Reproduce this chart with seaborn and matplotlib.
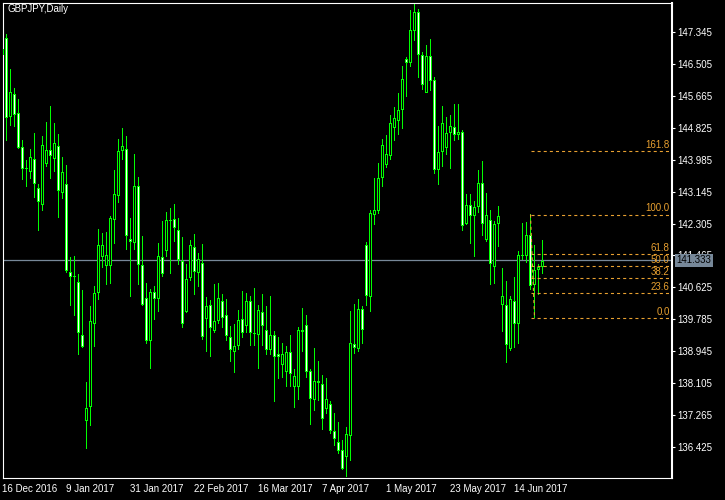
import numpy as np
import pandas as pd
import matplotlib
matplotlib.use("Agg")
import matplotlib.pyplot as plt
import seaborn as sns
from matplotlib.transforms import blended_transform_factory, offset_copy

# ---- data (GBPJPY daily candles) ----
opens = [146.73, 147.17, 145.11, 145.71, 145.20, 144.31, 143.77, 143.66, 143.99, 143.25,
         142.78, 143.88, 144.23, 144.01, 144.34, 143.11, 143.34, 141.02, 140.93, 140.78,
         139.38, 137.12, 137.48, 139.66, 140.48, 141.43, 141.19, 141.19, 142.40, 143.03,
         144.22, 144.25, 141.91, 141.79, 143.28, 141.22, 140.36, 139.22, 140.50, 140.32,
         141.43, 141.58, 142.41, 142.42, 142.14, 141.32, 139.98, 140.87, 141.69, 141.00,
         141.27, 139.80, 140.16, 139.48, 139.74, 140.27, 139.90, 139.32, 138.94, 139.09,
         139.80, 139.61, 140.28, 139.44, 139.38, 139.99, 139.51, 138.99, 139.38, 138.88,
         138.58, 138.40, 138.93, 138.01, 138.01, 139.46, 139.65, 138.42, 137.66, 138.16,
         138.08, 137.43, 137.56, 136.84, 136.57, 136.36, 136.16, 136.73, 139.15, 139.00,
         140.05, 141.75, 140.37, 142.54, 142.64, 143.51, 143.85, 144.08, 144.82, 145.01,
         145.28, 146.64, 146.51, 147.36, 147.86, 146.72, 145.74, 146.70, 146.08, 143.71,
         144.19, 144.29, 144.67, 144.83, 144.62, 144.72, 142.30, 142.78, 142.51, 142.75,
         143.38, 141.86, 142.41, 141.15, 142.30, 140.17, 140.17, 139.00, 140.28, 139.67,
         141.48, 141.45, 142.01, 140.68, 141.09, 141.16]
highs = [146.95, 147.26, 146.36, 145.86, 145.57, 144.49, 143.97, 144.25, 144.68, 143.34,
         144.60, 144.97, 145.39, 144.94, 144.65, 144.05, 143.84, 141.42, 141.44, 140.97,
         140.55, 138.13, 140.13, 140.66, 142.15, 142.05, 142.07, 142.50, 143.71, 144.52,
         144.79, 144.60, 142.44, 144.13, 143.52, 141.97, 140.73, 140.58, 140.66, 141.79,
         142.36, 142.60, 142.71, 142.81, 142.44, 141.94, 141.24, 141.85, 142.02, 141.53,
         141.76, 140.37, 140.29, 140.71, 140.73, 140.45, 140.31, 139.60, 139.66, 140.02,
         140.52, 140.47, 140.39, 140.60, 140.15, 140.44, 140.13, 140.39, 139.47, 139.32,
         139.14, 139.08, 139.37, 138.48, 139.58, 140.08, 139.89, 138.48, 139.03, 138.69,
         138.32, 138.24, 137.64, 137.32, 137.07, 136.60, 136.94, 139.99, 140.18, 140.31,
         140.13, 141.81, 142.65, 143.49, 143.89, 144.50, 144.63, 145.13, 145.36, 145.73,
         146.44, 146.68, 147.89, 148.10, 147.94, 146.81, 146.99, 147.13, 146.14, 144.85,
         145.39, 145.08, 145.15, 145.42, 145.44, 144.74, 143.07, 143.07, 142.88, 143.71,
         143.94, 143.10, 142.65, 142.36, 142.76, 141.13, 140.79, 140.39, 140.89, 141.56,
         142.31, 142.34, 142.54, 141.73, 141.22, 141.87]
lows = [146.65, 144.49, 144.89, 144.86, 144.27, 143.47, 143.27, 143.50, 142.98, 142.13,
        142.65, 143.81, 143.50, 143.66, 142.45, 142.95, 141.03, 140.14, 139.90, 138.87,
        139.05, 136.40, 137.01, 139.08, 140.32, 141.14, 140.71, 140.74, 141.79, 142.85,
        143.98, 141.63, 140.39, 141.61, 140.71, 140.14, 139.16, 138.50, 139.77, 140.00,
        140.90, 141.45, 140.98, 141.82, 141.22, 139.58, 139.96, 140.82, 140.45, 140.66,
        139.27, 138.95, 138.80, 139.45, 139.69, 139.56, 139.24, 138.69, 138.40, 139.00,
        139.32, 139.45, 139.11, 139.09, 138.50, 139.11, 138.85, 138.87, 137.64, 138.24,
        138.27, 138.01, 138.01, 137.48, 137.69, 138.93, 138.27, 137.03, 137.40, 137.66,
        136.90, 137.32, 136.80, 136.48, 136.25, 135.84, 135.66, 136.08, 138.90, 138.95,
        139.16, 140.16, 140.00, 142.29, 142.56, 143.27, 143.77, 143.99, 144.48, 144.64,
        144.79, 145.64, 146.42, 147.11, 146.14, 145.82, 145.74, 145.79, 143.61, 143.32,
        143.79, 144.11, 143.74, 144.48, 144.50, 142.11, 142.28, 141.79, 141.45, 142.59,
        141.98, 141.84, 140.70, 140.73, 141.71, 139.48, 138.64, 138.98, 139.06, 139.16,
        141.35, 141.29, 140.56, 139.83, 140.43, 140.98]
closes = [146.89, 145.09, 145.76, 145.16, 144.29, 143.74, 143.73, 144.05, 143.33, 142.88,
          144.36, 144.23, 144.08, 144.41, 143.16, 143.65, 141.06, 140.91, 140.89, 139.44,
          139.07, 137.46, 139.75, 140.49, 141.73, 141.73, 141.49, 142.44, 143.08, 144.20,
          144.33, 141.98, 141.82, 143.28, 141.22, 140.16, 139.22, 140.50, 140.32, 141.45,
          140.98, 142.41, 142.38, 142.19, 141.35, 139.66, 140.85, 141.75, 141.03, 141.36,
          139.32, 140.15, 139.57, 139.75, 140.36, 139.83, 139.34, 138.99, 139.09, 139.78,
          139.44, 140.28, 139.44, 139.40, 140.02, 139.62, 138.99, 139.38, 138.80, 138.80,
          138.88, 138.93, 138.35, 138.29, 139.50, 139.50, 138.40, 137.69, 138.16, 138.12,
          137.16, 137.69, 136.85, 136.64, 136.32, 135.85, 136.78, 139.16, 139.04, 140.05,
          139.50, 140.41, 142.59, 142.67, 143.51, 144.36, 144.12, 144.94, 145.07, 145.30,
          146.09, 146.51, 147.38, 147.86, 146.72, 145.95, 146.70, 146.06, 143.71, 144.19,
          144.94, 144.67, 144.86, 144.62, 144.72, 142.25, 142.78, 142.51, 142.75, 143.38,
          142.30, 142.54, 141.23, 142.30, 142.49, 140.41, 139.12, 140.33, 139.67, 141.48,
          141.45, 142.01, 140.66, 141.09, 141.16, 141.33]

date_tick_idx = [0, 16, 32, 48, 64, 80, 96, 112, 128]
date_tick_labels = ["16 Dec 2016", "9 Jan 2017", "31 Jan 2017", "22 Feb 2017",
                    "16 Mar 2017", "7 Apr 2017", "1 May 2017", "23 May 2017", "14 Jun 2017"]
price_ticks = [147.345, 146.505, 145.665, 144.825, 143.985, 143.145, 142.305,
               141.465, 140.625, 139.785, 138.945, 138.105, 137.265, 136.425]
last_price = 141.333
fib_ratios = [0.0, 23.6, 38.2, 50.0, 61.8, 100.0, 161.8]
fib_high = 142.54
fib_high_idx = 132
fib_low = 139.83
fib_low_idx = 133

# ---- styling ----
sns.set_style("dark", {"axes.facecolor": "black", "figure.facecolor": "black",
                       "axes.edgecolor": "white", "axes.grid": False})
plt.rcParams['font.family'] = ['Liberation Sans', 'DejaVu Sans']
plt.rcParams['lines.scale_dashes'] = False

GREEN = "#00ff00"
ORANGE = "#e8a030"
SLATE = "#778899"
FS = 7

df = pd.DataFrame({"open": opens, "high": highs, "low": lows, "close": closes})
df["idx"] = np.arange(len(df))
df["bull"] = df["close"] >= df["open"]

W, H = 725, 500
fig = plt.figure(figsize=(W / 100, H / 100), dpi=100)
fig.patch.set_facecolor("black")
left_px, right_px, top_px, bot_px = 2.5, 672, 2.5, 478
ax = fig.add_axes([left_px / W, 1 - bot_px / H, (right_px - left_px) / W, (bot_px - top_px) / H])
ax.set_facecolor("black")

x_max = (right_px - left_px) / 4.0   # 4 px per candle
y_lo, y_hi = 135.618, 148.112
px_price = (y_hi - y_lo) / (bot_px - top_px)   # price per pixel

# price line
ax.axhline(last_price, color=SLATE, lw=0.9, zorder=1)

# wicks (1 px, centred on the body)
wicks = ax.vlines(df["idx"], df["low"], df["high"], color=GREEN, lw=0.72, zorder=2,
                  antialiased=False)
wicks.set_snap(False)
# bodies: green outer 3px, inner 1px fill (white = bear, black = bull)
body_bottom = np.minimum(df["open"], df["close"]).to_numpy()
body_h = np.abs(df["close"] - df["open"]).to_numpy()
outer_h = np.maximum(body_h, px_price)
ax.bar(df["idx"], outer_h, bottom=body_bottom, width=0.75, color=GREEN,
       linewidth=0, zorder=3, antialiased=False)
inner_h = body_h - 2 * px_price
has_inner = inner_h > 0
ax.bar(df["idx"][has_inner], inner_h[has_inner], bottom=body_bottom[has_inner] + px_price,
       width=0.25, color=np.where(df["bull"][has_inner], "black", "white"),
       linewidth=0, zorder=4, antialiased=False)

# fibonacci retracement
ax.plot([fib_high_idx, fib_low_idx], [fib_high, fib_low], color=ORANGE, lw=0.8,
        ls=(0, (2.2, 2.2)), zorder=5)
lbl_trans = offset_copy(blended_transform_factory(ax.transAxes, ax.transData),
                        fig=fig, y=2.3, units="points")
for r in fib_ratios:
    lvl = fib_low + r / 100.0 * (fib_high - fib_low)
    ax.plot([fib_high_idx, x_max], [lvl, lvl], color=ORANGE, lw=0.8,
            ls=(0, (2.2, 2.2)), zorder=5)
    ax.text(0.9965, lvl, f"{r:.1f}", transform=lbl_trans, ha="right", va="baseline",
            color=ORANGE, fontsize=FS, zorder=6)

ax.set_xlim(0, x_max)
ax.set_ylim(y_lo, y_hi)

# axes / ticks
for s in ax.spines.values():
    s.set_color("white")
    s.set_linewidth(0.8)
ax.spines["right"].set_linewidth(1.5)
ax.yaxis.tick_right()
ax.set_yticks(price_ticks)
ax.set_yticklabels([f"{v:.3f}" for v in price_ticks])
ax.set_xticks(date_tick_idx)
ax.set_xticklabels(date_tick_labels)
ax.tick_params(axis="y", colors="white", labelcolor="white", labelsize=FS,
               length=2.5, width=0.8, pad=1.2, direction="out")
ax.tick_params(axis="x", colors="white", labelcolor="white", labelsize=FS,
               length=3, width=0.8, pad=1.0, direction="out")
for t in ax.get_xticklabels():
    t.set_horizontalalignment("left")

# current price box
ax.text(1.0068, last_price, f"{last_price:.3f}",
        transform=blended_transform_factory(ax.transAxes, ax.transData),
        ha="left", va="center", color="black", fontsize=FS, clip_on=False, zorder=10,
        bbox=dict(boxstyle="square,pad=0.18", fc=SLATE, ec="none"))

# title
fig.text(7.3 / W, 1 - 12.5 / H, "GBPJPY,Daily", color="white", fontsize=FS,
         ha="left", va="baseline")

fig.savefig("out.png", dpi=100, facecolor="black")
